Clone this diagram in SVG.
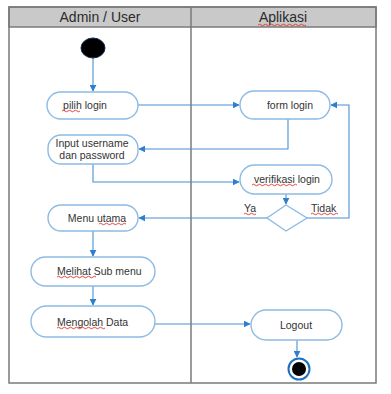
<svg xmlns="http://www.w3.org/2000/svg" width="391" height="394" viewBox="0 0 391 394">
<defs>
<style>
.lane{fill:none;stroke:#7a7a7a;stroke-width:1.5}
.hdr{fill:#c9c9c9;stroke:#7a7a7a;stroke-width:1.5}
.ht{font-family:"Liberation Sans",Arial,sans-serif;font-size:14px;fill:#2b2b2b;text-anchor:middle}
.node{fill:#ffffff;stroke:#8dbbe3;stroke-width:1.4}
.t{font-family:"Liberation Sans",Arial,sans-serif;font-size:10.5px;fill:#333333;text-anchor:middle}
.ts{font-family:"Liberation Sans",Arial,sans-serif;font-size:10.5px;fill:#333333}
.c{fill:none;stroke:#4a90d4;stroke-width:1.1}
.sq{fill:none;stroke:#d9342b;stroke-width:0.9}
</style>
<marker id="arr" viewBox="0 0 10 10" refX="9" refY="5" markerWidth="7" markerHeight="7" orient="auto-start-reverse" markerUnits="userSpaceOnUse">
<path d="M0,0 L10,5 L0,10 z" fill="#2f7fcf"/>
</marker>
</defs>
<rect x="0" y="0" width="391" height="394" fill="#ffffff"/>
<g id="swimlanes">
<rect class="hdr" x="9" y="7" width="367" height="20"/>
<rect class="lane" x="9" y="7" width="367" height="376"/>
<line class="lane" x1="191" y1="7" x2="191" y2="383"/>
<text class="ht" x="100" y="22">Admin / User</text>
<text class="ht" x="283" y="22">Aplikasi</text>
<path class="sq" d="M258,25 q1.5,-1.5 3,0 t3,0 t3,0 t3,0 t3,0 t3,0 t3,0 t3,0 t3,0 t3,0 t3,0 t3,0 t3,0 t3,0 t3,0 t3,0"/>
</g>
<g id="connectors">
<path class="c" d="M93,58 V91" marker-end="url(#arr)"/>
<path class="c" d="M138,105 H239" marker-end="url(#arr)"/>
<path class="c" d="M288,119 V149 H139" marker-end="url(#arr)"/>
<path class="c" d="M93,164 V182 H239" marker-end="url(#arr)"/>
<path class="c" d="M286,194 V204" marker-end="url(#arr)"/>
<path class="c" d="M267,218 H139" marker-end="url(#arr)"/>
<path class="c" d="M307,218 H349 V105 H331" marker-end="url(#arr)"/>
<path class="c" d="M93,231 V256" marker-end="url(#arr)"/>
<path class="c" d="M93,286 V305" marker-end="url(#arr)"/>
<path class="c" d="M155,324 H250" marker-end="url(#arr)"/>
<path class="c" d="M297,340 V357" marker-end="url(#arr)"/>
</g>
<g id="start">
<ellipse cx="93" cy="48" rx="12" ry="10" fill="#000000" stroke="#0f2a4a" stroke-width="1"/>
</g>
<g id="pilih-login">
<rect class="node" x="47" y="92" width="91" height="27" rx="13.5"/>
<text class="t" x="85" y="109">pilih login</text>
<path class="sq" d="M62,111 q1.5,-1.5 3,0 t3,0 t3,0 t3,0 t3,0 t3,0"/>
</g>
<g id="form-login">
<rect class="node" x="240" y="91" width="90" height="28" rx="14"/>
<text class="t" x="290" y="109">form login</text>
</g>
<g id="input-username">
<rect class="node" x="48" y="135" width="90" height="29" rx="13"/>
<text class="t" x="92" y="147">Input username</text>
<text class="t" x="92" y="159">dan password</text>
</g>
<g id="verifikasi-login">
<rect class="node" x="240" y="165" width="92" height="29" rx="14.5"/>
<text class="t" x="287" y="183">verifikasi login</text>
<path class="sq" d="M252,185 q1.5,-1.5 3,0 t3,0 t3,0 t3,0 t3,0 t3,0 t3,0 t3,0 t3,0 t3,0 t3,0 t3,0 t3,0 t3,0 t3,0"/>
</g>
<g id="decision">
<polygon points="286,205 307,218 286,231 267,218" fill="#ffffff" stroke="#8dbbe3" stroke-width="1.4"/>
<text class="ts" x="244" y="212">Ya</text>
<path class="sq" d="M244,214 q1.5,-1.5 3,0 t3,0 t3,0 t3,0"/>
<text class="ts" x="311" y="212">Tidak</text>
<path class="sq" d="M311,214 q1.5,-1.5 3,0 t3,0 t3,0 t3,0 t3,0 t3,0 t3,0 t3,0 t3,0"/>
</g>
<g id="menu-utama">
<rect class="node" x="48" y="205" width="90" height="26" rx="13"/>
<text class="t" x="97" y="222">Menu utama</text>
<path class="sq" d="M99,224 q1.5,-1.5 3,0 t3,0 t3,0 t3,0 t3,0 t3,0 t3,0 t3,0 t3,0"/>
</g>
<g id="melihat-sub-menu">
<rect class="node" x="31" y="257" width="124" height="29" rx="14.5"/>
<text class="ts" x="57" y="275">Melihat Sub menu</text>
<path class="sq" d="M57,277 q1.5,-1.5 3,0 t3,0 t3,0 t3,0 t3,0 t3,0 t3,0 t3,0 t3,0 t3,0 t3,0 t3,0 t3,0"/>
</g>
<g id="mengolah-data">
<rect class="node" x="31" y="306" width="124" height="31" rx="15.5"/>
<text class="ts" x="57" y="326">Mengolah Data</text>
<path class="sq" d="M57,328 q1.5,-1.5 3,0 t3,0 t3,0 t3,0 t3,0 t3,0 t3,0 t3,0 t3,0 t3,0 t3,0 t3,0 t3,0 t3,0 t3,0 t3,0"/>
</g>
<g id="logout">
<rect class="node" x="251" y="310" width="91" height="30" rx="15"/>
<text class="t" x="296" y="329">Logout</text>
</g>
<g id="end">
<circle cx="299" cy="369" r="10.5" fill="#ffffff" stroke="#1f6fc0" stroke-width="2"/>
<circle cx="299" cy="369" r="7" fill="#000000"/>
</g>
</svg>
